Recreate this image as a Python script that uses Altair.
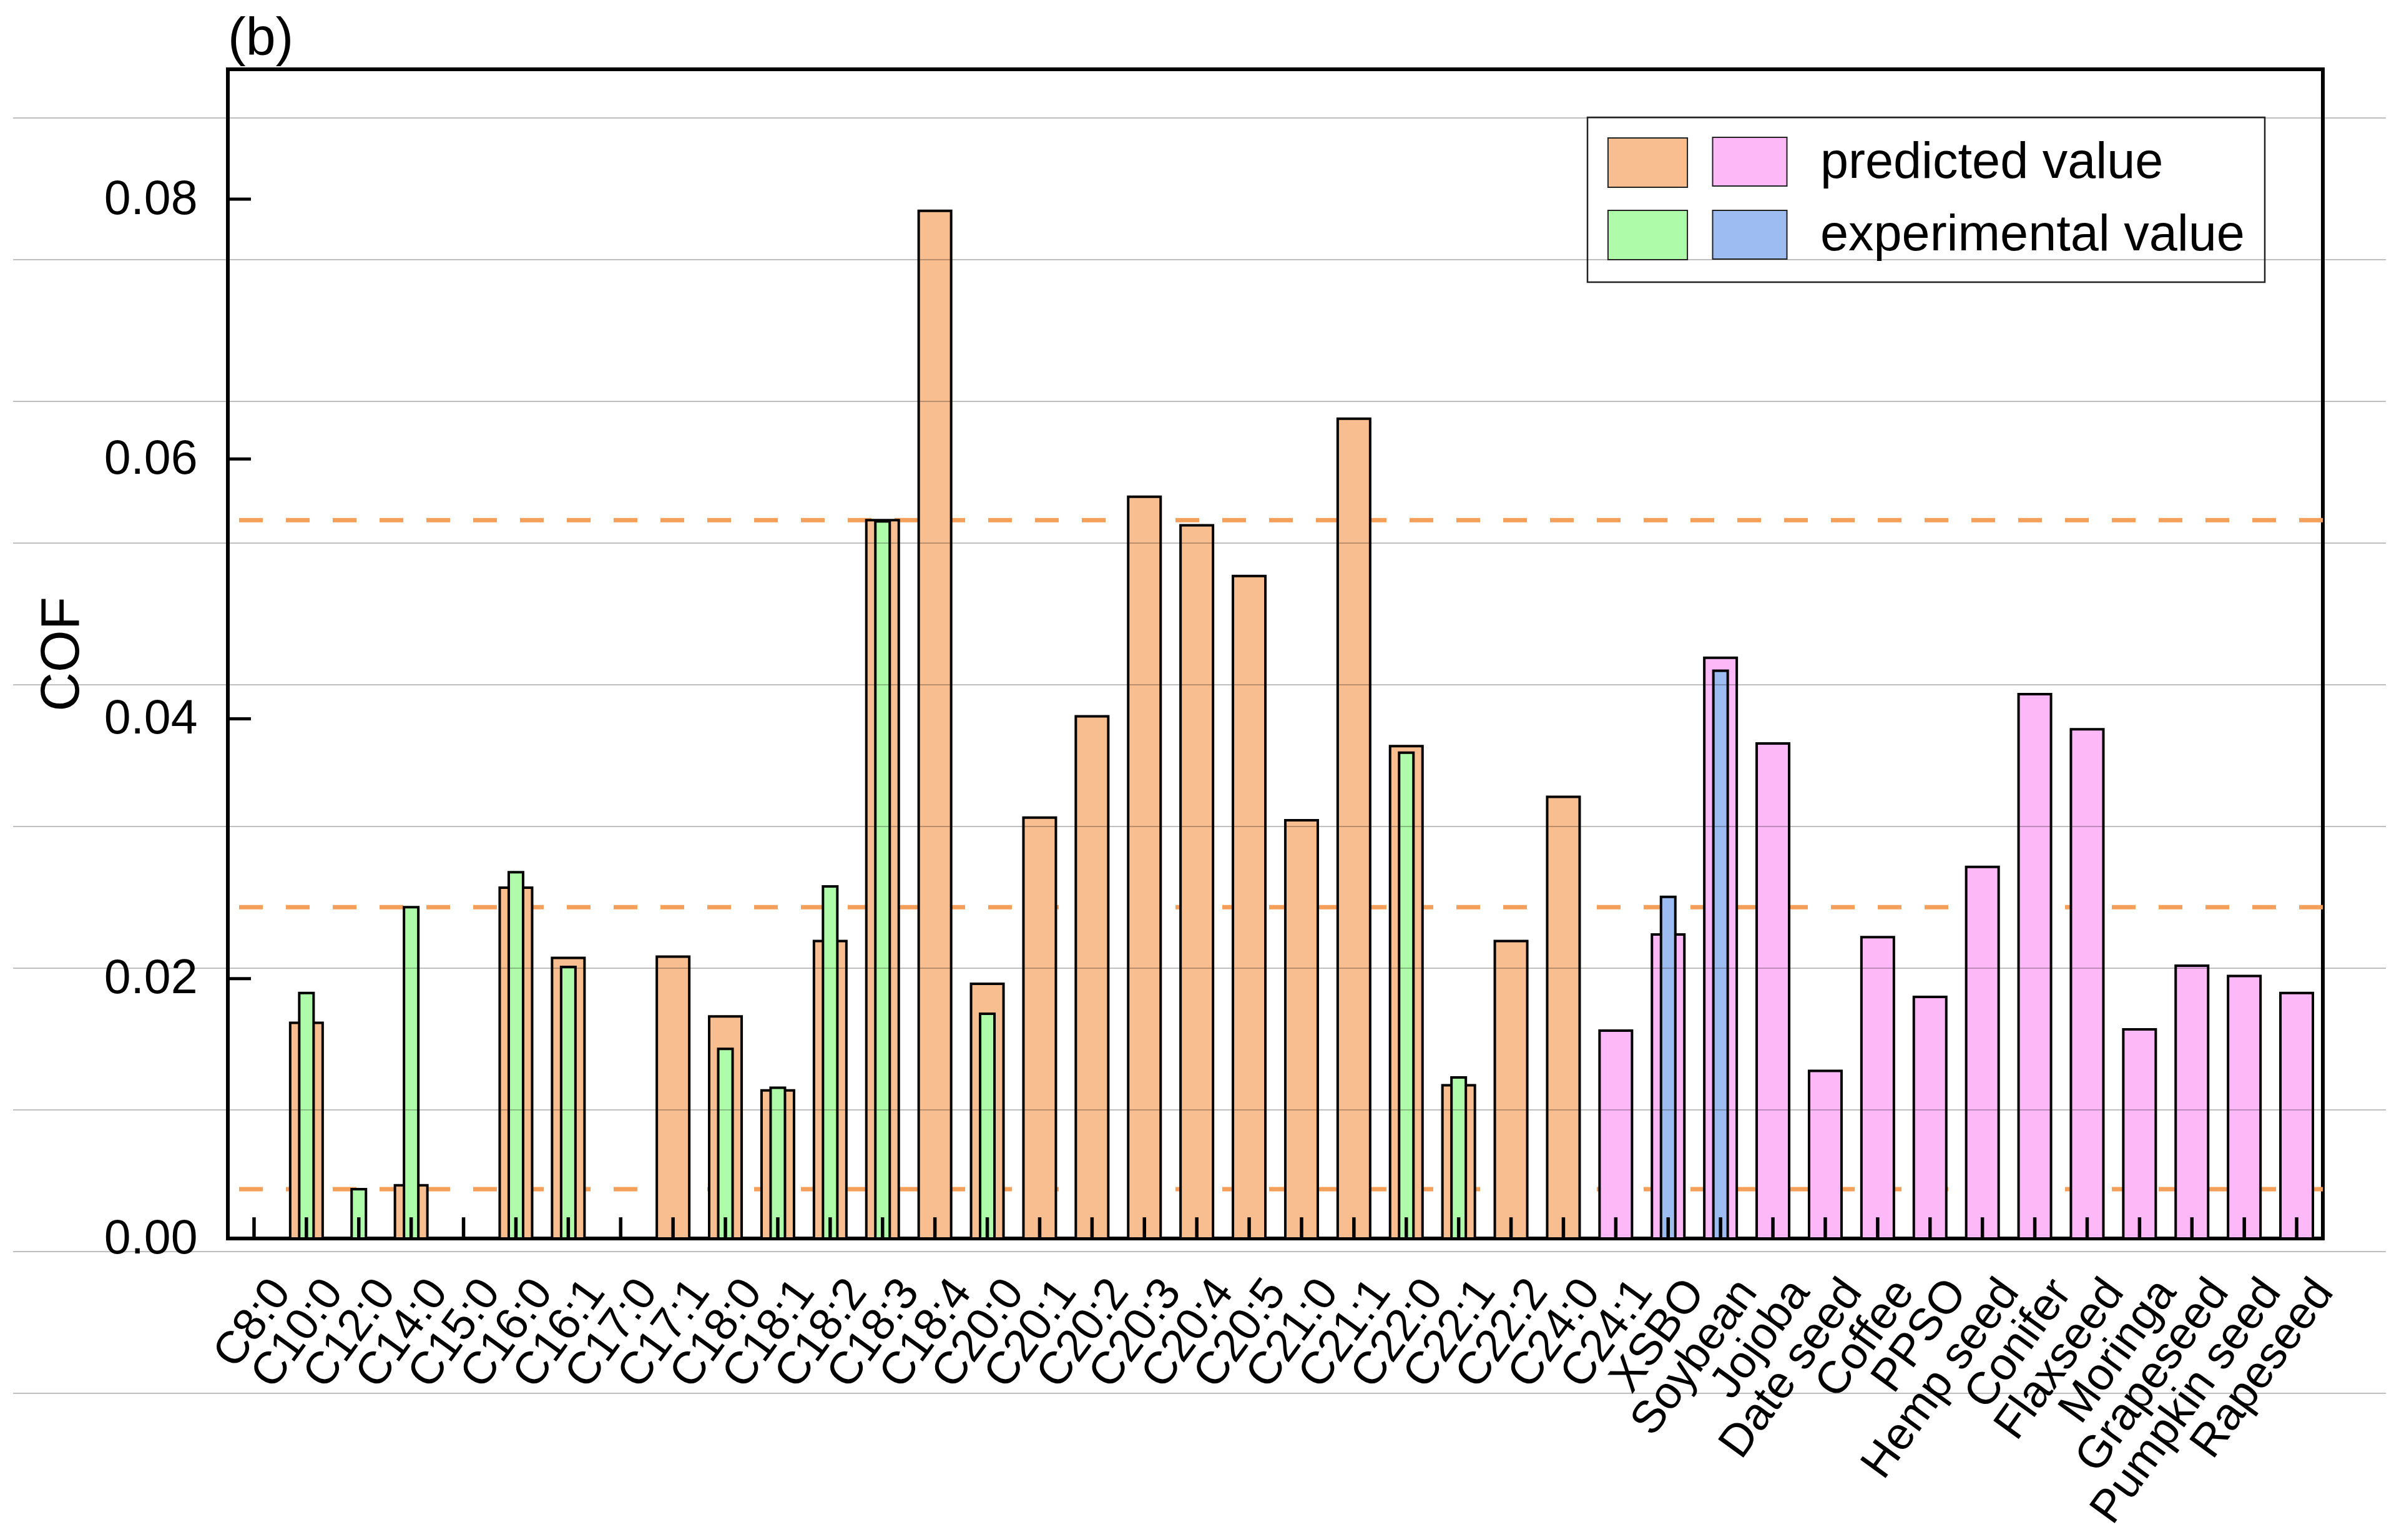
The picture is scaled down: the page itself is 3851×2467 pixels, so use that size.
import altair as alt
import pandas as pd

# ---------------- data ----------------
categories = ["C8:0", "C10:0", "C12:0", "C14:0", "C15:0", "C16:0", "C16:1", "C17:0",
              "C17:1", "C18:0", "C18:1", "C18:2", "C18:3", "C18:4", "C20:0", "C20:1",
              "C20:2", "C20:3", "C20:4", "C20:5", "C21:0", "C21:1", "C22:0", "C22:1",
              "C22:2", "C24:0", "C24:1", "XSBO", "Soybean", "Jojoba", "Date seed",
              "Coffee", "PPSO", "Hemp seed", "Conifer", "Flaxseed", "Moringa",
              "Grapeseed", "Pumpkin seed", "Rapeseed"]

fa_pred_cat = ["C10:0", "C14:0", "C16:0", "C16:1", "C17:1", "C18:0", "C18:1", "C18:2",
               "C18:3", "C18:4", "C20:0", "C20:1", "C20:2", "C20:3", "C20:4", "C20:5",
               "C21:0", "C21:1", "C22:0", "C22:1", "C22:2", "C24:0"]
fa_pred_val = [0.0166, 0.0041, 0.0270, 0.0216, 0.0217, 0.0171, 0.0114, 0.0229,
               0.0553, 0.0791, 0.0196, 0.0324, 0.0402, 0.0571, 0.0549, 0.0510,
               0.0322, 0.0631, 0.0379, 0.0118, 0.0229, 0.0340]

fa_exp_cat = ["C10:0", "C12:0", "C14:0", "C16:0", "C16:1", "C18:0", "C18:1", "C18:2",
              "C18:3", "C20:0", "C22:0", "C22:1"]
fa_exp_val = [0.0189, 0.0038, 0.0255, 0.0282, 0.0209, 0.0146, 0.0116, 0.0271,
              0.0552, 0.0173, 0.0374, 0.0124]

oil_pred_cat = ["C24:1", "XSBO", "Soybean", "Jojoba", "Date seed", "Coffee", "PPSO",
                "Hemp seed", "Conifer", "Flaxseed", "Moringa", "Grapeseed",
                "Pumpkin seed", "Rapeseed"]
oil_pred_val = [0.0160, 0.0234, 0.0447, 0.0381, 0.0129, 0.0232, 0.0186,
                0.0286, 0.0419, 0.0392, 0.0161, 0.0210, 0.0202, 0.0189]

oil_exp_cat = ["XSBO", "Soybean"]
oil_exp_val = [0.0263, 0.0437]

ref_lines = [0.0553, 0.0255, 0.0038]          # dashed orange reference lines
y_tick_values = [0.00, 0.02, 0.04, 0.06, 0.08]
scan_lines = [0.08625, 0.07535, 0.06444, 0.05353, 0.04262, 0.03171,
              0.02081, 0.00990, -0.00101, -0.01192]  # faint grey lines across the picture

kinds = ["predicted value", "experimental value"]

# ---------------- style ----------------
W, H = 3356, 1873
FONT = "Liberation Sans"
ORANGE, GREEN, PINK, BLUE = "#F9BE8F", "#AEFCA9", "#FDB8F7", "#9DBCF2"
DASH = "#F5A05A"

df_fa_pred = pd.DataFrame({"cat": fa_pred_cat, "cof": fa_pred_val, "kind": kinds[0]})
df_fa_exp = pd.DataFrame({"cat": fa_exp_cat, "cof": fa_exp_val, "kind": kinds[1]})
df_oil_pred = pd.DataFrame({"cat": oil_pred_cat, "cof": oil_pred_val, "kind": kinds[0]})
df_oil_exp = pd.DataFrame({"cat": oil_exp_cat, "cof": oil_exp_val, "kind": kinds[1]})
df_ref = pd.DataFrame({"cof": ref_lines})
df_xt = pd.DataFrame({"cat": categories, "t0": 0.0, "t1": 0.00163})
df_yt = pd.DataFrame({"cof": y_tick_values})
df_scan = pd.DataFrame({"cof": scan_lines})

xscale = alt.Scale(type="band", domain=categories, paddingInner=0, paddingOuter=0)
xaxis = alt.Axis(title=None, domain=False, ticks=False, tickSize=0, grid=False,
                 labelAngle=306, labelAlign="right", labelBaseline="middle",
                 labelFontSize=73, labelFont=FONT, labelColor="black",
                 labelOffset=43, labelPadding=73, labelOverlap=False, labelLimit=3000)
yscale = alt.Scale(domain=[0, 0.09], nice=False, zero=True)
yaxis = alt.Axis(title="COF", values=y_tick_values, format=".2f", domain=False,
                 ticks=False, tickSize=0, grid=False,
                 labelFontSize=77, labelFont=FONT, labelColor="black", labelPadding=49,
                 titleFontSize=87, titleFont=FONT, titleFontWeight="normal",
                 titleColor="black", titleAngle=270, titleBaseline="alphabetic",
                 titleAlign="center", titleX=-240, titleY=H / 2)


def X():
    return alt.X("cat:N", scale=xscale, axis=xaxis, title=None)


def Y(field):
    return alt.Y(f"{field}:Q", scale=yscale, axis=yaxis, title="COF")


legA = alt.Legend(title=None, orient="none", legendX=2178, legendY=77, direction="vertical",
                  symbolType="M-1.61,-1H1.61V1H-1.61Z", symbolSize=6241, symbolOffset=24,
                  symbolStrokeColor="#222222", symbolStrokeWidth=2, symbolOpacity=1,
                  labelFontSize=81, labelFont=FONT, labelColor="black",
                  labelOffset=236, labelLimit=3000, rowPadding=29, padding=32,
                  strokeColor="#222222")
legB = alt.Legend(title=None, orient="none", legendX=2398, legendY=108, direction="vertical",
                  symbolType="M-1.526,-1H1.526V1H-1.526Z", symbolSize=6084, symbolOffset=0,
                  symbolStrokeColor="#222222", symbolStrokeWidth=2, symbolOpacity=1,
                  labelExpr="''", labelFontSize=1, labelOffset=0, rowPadding=31, padding=0)

fill_fa = alt.Fill("kind:N", scale=alt.Scale(domain=kinds, range=[ORANGE, GREEN]), legend=legA)
fill_oil = alt.Fill("kind:N", scale=alt.Scale(domain=kinds, range=[PINK, BLUE]), legend=legB)

bar_wide = dict(size=52, stroke="black", strokeWidth=4, fillOpacity=1)
bar_narrow = dict(size=23, stroke="black", strokeWidth=4, fillOpacity=1)

dashed = alt.Chart(df_ref).mark_rule(color=DASH, strokeWidth=7, strokeDash=[38, 37]).encode(
    y=Y("cof"))

fa = alt.layer(
    alt.Chart(df_fa_pred).mark_bar(**bar_wide).encode(x=X(), y=Y("cof"), fill=fill_fa),
    alt.Chart(df_fa_exp).mark_bar(**bar_narrow).encode(x=X(), y=Y("cof"), fill=fill_fa),
)
oil = alt.layer(
    alt.Chart(df_oil_pred).mark_bar(**bar_wide).encode(x=X(), y=Y("cof"), fill=fill_oil),
    alt.Chart(df_oil_exp).mark_bar(**bar_narrow).encode(x=X(), y=Y("cof"), fill=fill_oil),
)

xticks = alt.Chart(df_xt).mark_rule(color="black", strokeWidth=5.5).encode(
    x=X(), y=Y("t0"), y2="t1")
yticks = alt.Chart(df_yt).mark_rule(color="black", strokeWidth=5).encode(
    y=Y("cof"), x=alt.value(0), x2=alt.value(37))
scan = alt.Chart(df_scan).mark_rule(color="black", opacity=0.25, strokeWidth=2).encode(
    y=Y("cof"), x=alt.value(-344), x2=alt.value(3457))

chart = alt.layer(dashed, fa, oil, xticks, yticks, scan).resolve_scale(
    fill="independent"
).properties(
    width=W, height=H,
    autosize=alt.AutoSizeParams(type="none"),
    padding={"left": 357, "top": 103, "right": 122, "bottom": 470},
    title=alt.TitleParams(text="(b)", anchor="start", frame="group", fontSize=86,
                          font=FONT, fontWeight="normal", color="black",
                          baseline="alphabetic", offset=24, dy=87),
    background="white",
).configure_view(
    stroke="black", strokeWidth=6
).configure_legend(
    strokeWidth=2.5
)

chart.save("out.html", embed_options={"renderer": "svg", "actions": False})
